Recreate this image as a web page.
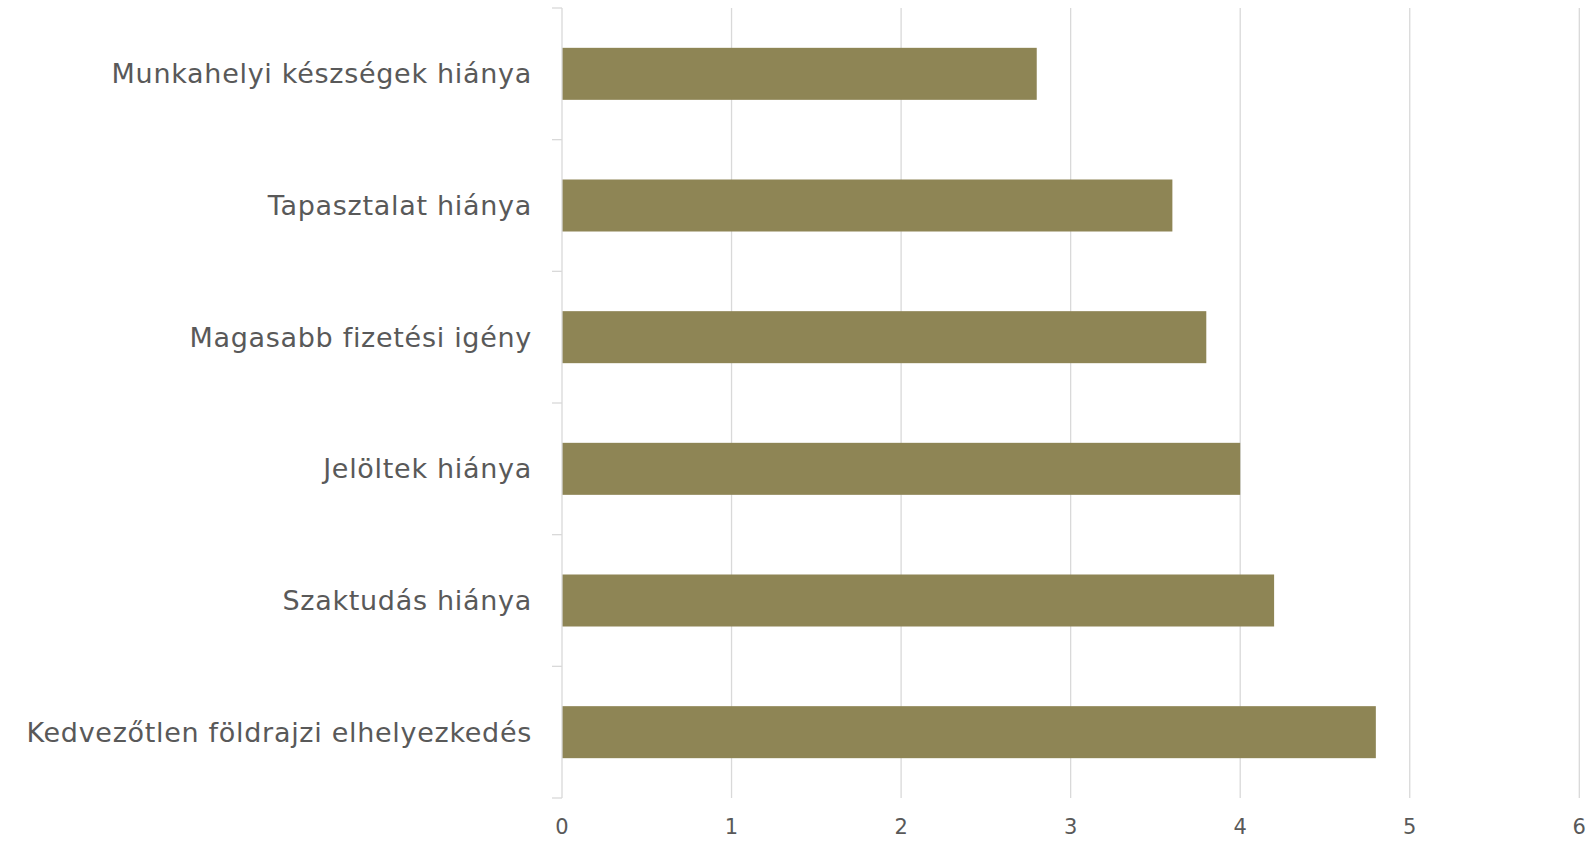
<!DOCTYPE html>
<html>
<head>
<meta charset="utf-8">
<script src="https://cdn.jsdelivr.net/npm/d3@7"></script>
<style>
  body { margin: 0; background: #fff; }
  svg { display: block; }
</style>
</head>
<body>
<div id="chart"></div>
<script>
// categories top to bottom, as in the picture
const categories = [
  'Munkahelyi készségek hiánya',
  'Tapasztalat hiánya',
  'Magasabb fizetési igény',
  'Jelöltek hiánya',
  'Szaktudás hiánya',
  'Kedvezőtlen földrajzi elhelyezkedés'
];
const values = [2.8, 3.6, 3.8, 4.0, 4.2, 4.8];
const xTicks = [0, 1, 2, 3, 4, 5, 6];

const width = 1589;
const height = 841;
const margin = { top: 8, right: 10, bottom: 43, left: 562 };

const svg = d3
  .select('#chart')
  .append('svg')
  .attr('width', width)
  .attr('height', height);

const x = d3
  .scaleLinear()
  .domain([0, 6])
  .range([margin.left, margin.left + 169.55 * 6]);

const y = d3
  .scaleBand()
  .domain(categories)
  .range([margin.top, height - margin.bottom])
  .paddingInner(0.605)
  .paddingOuter(0.3025);

const bottom = height - margin.bottom;

// vertical gridlines
svg
  .append('g')
  .selectAll('line')
  .data(xTicks.slice(1))
  .join('line')
  .attr('x1', d => x(d))
  .attr('x2', d => x(d))
  .attr('y1', margin.top)
  .attr('y2', bottom)
  .style('stroke', '#d9d9d9')
  .style('stroke-width', 1.3);

// bars
svg
  .append('g')
  .selectAll('rect')
  .data(values)
  .join('rect')
  .attr('x', x(0))
  .attr('y', (d, i) => y(categories[i]))
  .attr('width', d => x(d) - x(0))
  .attr('height', y.bandwidth())
  .style('fill', '#8e8555');

// category axis line and tick marks at band edges
const edges = d3.range(categories.length + 1).map(i => margin.top + i * (bottom - margin.top) / categories.length);

svg
  .append('line')
  .attr('x1', x(0))
  .attr('x2', x(0))
  .attr('y1', margin.top)
  .attr('y2', bottom)
  .style('stroke', '#d9d9d9')
  .style('stroke-width', 1.3);

svg
  .append('g')
  .selectAll('line')
  .data(edges)
  .join('line')
  .attr('x1', x(0) - 10)
  .attr('x2', x(0))
  .attr('y1', d => d)
  .attr('y2', d => d)
  .style('stroke', '#d9d9d9')
  .style('stroke-width', 1.3);

// category labels
svg
  .append('g')
  .selectAll('text')
  .data(categories)
  .join('text')
  .text(d => d)
  .attr('x', x(0) - 30)
  .attr('y', d => y(d) + y.bandwidth() / 2)
  .attr('dy', '0.35em')
  .attr('text-anchor', 'end')
  .style('font-family', 'DejaVu Sans, sans-serif')
  .style('font-size', '27px')
  .style('letter-spacing', '0.7px')
  .style('fill', '#595959');

// value tick labels
svg
  .append('g')
  .selectAll('text')
  .data(xTicks)
  .join('text')
  .text(d => d)
  .attr('x', d => x(d))
  .attr('y', bottom + 29)
  .attr('dy', '0.35em')
  .attr('text-anchor', 'middle')
  .style('font-family', 'DejaVu Sans, sans-serif')
  .style('font-size', '21px')
  .style('fill', '#595959');
</script>
</body>
</html>
